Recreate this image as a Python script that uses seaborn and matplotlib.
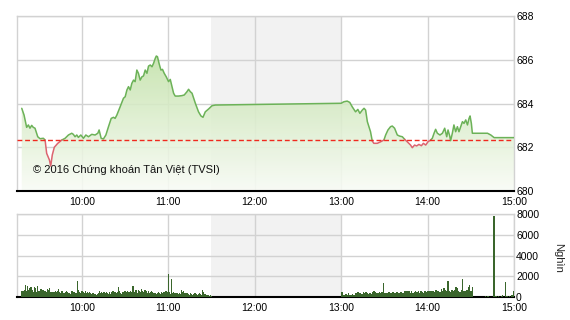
import numpy as np
import pandas as pd
import matplotlib
matplotlib.use("Agg")
import matplotlib.pyplot as plt
import seaborn as sns
from matplotlib.colors import LinearSegmentedColormap

# ---------------- data ----------------
# minutes after 09:00
price_t = [18.3, 19.9, 21.7, 22.9, 24.0, 25.2, 26.3, 27.5, 29.4, 31.0, 33.3, 34.5, 35.6, 37.5, 38.4,
           39.5, 40.9, 43.3, 46.1, 48.4, 50.7, 53.0, 54.1, 55.3, 56.5, 57.6, 59.3, 61.1, 62.8, 64.6,
           66.9, 69.2, 71.1, 72.0, 73.4, 75.0, 76.7, 78.5, 80.4, 82.0, 83.1, 84.3, 86.6, 88.9, 90.1,
           91.3, 92.4, 93.6, 94.7, 95.9, 97.0, 98.2, 99.3, 100.5, 101.7, 102.8, 104.0, 105.2, 106.3,
           107.5, 108.7, 109.8, 111.0, 111.7, 112.5, 113.7, 114.9, 116.0, 117.2, 118.6, 120.2, 121.4,
           122.6, 123.7, 124.8, 127.1, 129.5, 131.1, 133.0, 134.1, 135.3, 136.5, 138.8, 141.0, 142.7,
           144.1, 145.7, 148.0, 150.4, 152.7, 240.0, 241.9, 244.2, 246.0, 247.7, 250.0, 251.6, 253.0,
           254.7, 255.9, 257.0, 258.2, 259.3, 260.4, 261.6, 262.7, 265.1, 267.4, 269.7, 270.9, 272.5,
           274.3, 275.5, 277.1, 279.0, 280.6, 282.5, 284.1, 285.9, 288.2, 289.4, 291.0, 292.4, 294.0,
           295.7, 297.1, 298.7, 300.3, 302.1, 303.3, 304.5, 305.6, 306.8, 308.6, 310.3, 311.9, 313.3,
           314.2, 315.4, 316.0, 317.2, 318.3, 319.5, 320.7, 321.8, 323.0, 324.2, 325.3, 326.5, 327.7,
           328.8, 329.5, 330.4, 331.1, 341.6, 343.9, 346.2, 360.0]
price_v = [683.78, 683.47, 682.91, 683.02, 682.87, 683.00, 682.91, 682.87, 682.48, 682.39, 682.41,
           682.33, 681.72, 681.42, 681.14, 681.65, 682.00, 682.18, 682.33, 682.41, 682.56, 682.64,
           682.59, 682.48, 682.56, 682.45, 682.56, 682.41, 682.56, 682.48, 682.59, 682.56, 682.64,
           682.79, 682.41, 682.38, 682.56, 682.94, 683.32, 683.37, 683.32, 683.47, 683.85, 684.24,
           684.31, 684.62, 684.77, 684.62, 684.92, 685.07, 685.00, 685.53, 685.38, 685.07, 685.22,
           685.26, 685.53, 685.38, 685.71, 685.76, 685.68, 685.84, 686.07, 686.17, 686.14, 685.81,
           685.53, 685.56, 685.38, 685.22, 685.00, 685.10, 684.77, 684.47, 684.34, 684.34, 684.36,
           684.39, 684.54, 684.65, 684.54, 684.47, 684.01, 683.62, 683.43, 683.37, 683.62, 683.75,
           683.90, 683.93, 684.01, 684.08, 684.11, 684.05, 683.85, 683.62, 683.73, 683.55, 683.70,
           683.78, 683.70, 683.17, 682.94, 682.71, 682.29, 682.18, 682.18, 682.25, 682.33, 682.56,
           682.79, 682.94, 682.97, 682.87, 682.56, 682.51, 682.48, 682.36, 682.25, 682.10, 681.98,
           682.10, 682.06, 682.13, 682.07, 682.18, 682.10, 682.25, 682.33, 682.41, 682.64, 682.82,
           682.64, 682.56, 682.64, 682.87, 682.48, 682.79, 682.51, 682.30, 682.64, 683.02, 682.71,
           682.94, 682.71, 682.94, 683.17, 683.09, 683.25, 683.02, 683.32, 683.43, 683.09, 682.64,
           682.64, 682.56, 682.44, 682.44]
ref_price = 682.33

vol_am = [600, 600, 650, 1200, 600, 1100, 650, 850, 1000, 650, 450, 950, 850, 450, 1100, 550, 550,
          750, 450, 650, 550, 600, 450, 750, 650, 850, 450, 350, 450, 450, 550, 450, 550, 750, 450,
          350, 550, 350, 350, 450, 550, 450, 350, 350, 250, 550, 350, 450, 350, 350, 1500, 650, 450,
          350, 550, 450, 350, 550, 350, 450, 350, 450, 350, 250, 350, 200, 250, 200, 250, 350, 550,
          350, 450, 350, 450, 350, 450, 350, 250, 450, 250, 450, 550, 350, 450,
          350, 450, 1000, 550, 350, 250, 450, 350, 550, 450, 550, 450, 450, 550, 450, 1100, 450, 350,
          650, 350, 650, 600, 450, 750, 550, 450, 650, 550, 350, 550, 350, 450, 550, 450, 350, 350,
          250, 350, 450, 350, 250, 450, 350, 450, 350, 550, 450, 2200, 450, 250, 1750, 350, 450, 350,
          250, 350, 250, 350, 250, 650, 450, 600, 350, 250, 350, 250, 200, 350, 250, 200, 250, 350,
          250, 200, 250, 350, 250, 200, 650, 450, 250, 200, 100, 200, 100, 200, 100]
vol_pm = [450, 200, 200, 250, 200, 350, 200, 200, 250, 200, 400, 350, 450, 350, 400, 250, 500, 350,
          450, 400, 250, 400, 250, 500, 550, 500, 350, 400, 500, 400, 500, 1350, 400, 350, 400, 500,
          350, 400, 500, 350, 400, 500, 350, 400, 500, 350, 400, 550, 550, 550, 550, 400, 550, 400,
          500, 550, 500, 550, 400, 550, 500, 400, 550, 500, 550, 600, 550, 600, 550, 500, 650, 550,
          600, 500, 750, 600, 850, 650, 550, 1500, 550, 500, 650, 550, 650, 950, 850, 550, 500, 650,
          1700, 550, 600, 650, 950, 1200, 600, 1000]
late_t = [340.2, 342.0, 346.2, 347.6, 349.4, 351.3, 352.2, 354.1, 355.2, 356.9, 358.7, 359.6]
late_v = [100, 100, 7800, 50, 100, 50, 150, 1400, 50, 50, 150, 550]

hour_ticks = [60, 120, 180, 240, 300, 360]
hour_labels = ["10:00", "11:00", "12:00", "13:00", "14:00", "15:00"]
price_ticks = [680, 682, 684, 686, 688]
vol_ticks = [0, 2000, 4000, 6000, 8000]

# ---------------- style ----------------
sns.set_theme(style="white")
plt.rcParams["font.family"] = ["Liberation Sans", "DejaVu Sans"]

W, H = 570, 320
fig = plt.figure(figsize=(W / 100, H / 100), dpi=100)
ax = fig.add_axes([17 / W, 1 - 191 / H, 497 / W, 175 / H])
axv = fig.add_axes([17 / W, 1 - 297 / H, 497 / W, 83 / H])

GRID = "#d2d2d2"
X0, X1 = 15, 360

for a in (ax, axv):
    a.axvspan(150, 240, color="#f2f2f2", zorder=0.5, lw=0)
    a.grid(True, color=GRID, lw=1)
    a.set_axisbelow(True)
    for s in ("left", "right", "top"):
        a.spines[s].set_color(GRID)
        a.spines[s].set_linewidth(1)
    a.spines["bottom"].set_color("black")
    a.spines["bottom"].set_linewidth(1.5)
    a.set_xticks(hour_ticks)
    a.set_xticklabels(hour_labels)
    a.yaxis.tick_right()
    a.tick_params(axis="both", length=0, labelsize=7.5, colors="black")
    a.tick_params(axis="x", pad=4)
    a.tick_params(axis="y", pad=1.5)

# ---- price panel ----
t = np.array(price_t)
p = np.array(price_v)
poly = ax.fill_between(t, p, 680, facecolor="none", edgecolor="none")
cmap = LinearSegmentedColormap.from_list("g", ["#f9fcf6", "#b3da93"])
grad = np.linspace(0, 1, 256).reshape(-1, 1)
im = ax.imshow(grad, extent=[X0, X1, 680, 688], origin="lower", aspect="auto",
               cmap=cmap, zorder=1, alpha=0.88, interpolation="bilinear")
im.set_clip_path(poly.get_paths()[0], transform=ax.transData)

below = (p[:-1] + p[1:]) / 2 < ref_price
rows = []
run = 0
for i in range(len(below)):
    if i > 0 and below[i] != below[i - 1]:
        run += 1
    state = "below" if below[i] else "above"
    rows.append((run, state, t[i], p[i]))
    rows.append((run, state, t[i + 1], p[i + 1]))
seg = pd.DataFrame(rows, columns=["run", "state", "t", "p"]).drop_duplicates()
sns.lineplot(data=seg, x="t", y="p", units="run", hue="state", estimator=None, sort=False,
             palette={"above": "#6cb258", "below": "#dc6470"}, legend=False, lw=1.1, ax=ax,
             zorder=3)
ax.axhline(ref_price, color="#f0281e", ls=(0, (3.5, 2)), lw=1, zorder=4)

ax.set_xlim(X0, X1)
ax.set_ylim(680, 688)
ax.set_yticks(price_ticks)
ax.set_yticklabels([str(v) for v in price_ticks])
ax.set_xlabel("")
ax.set_ylabel("")
ax.text(26.1, 680.96, "© 2016 Chứng khoán Tân Việt (TVSI)", fontsize=8, color="#111111",
        ha="left", va="center", zorder=5)

# ---- volume panel ----
t_am = np.linspace(18.5, 150.0, len(vol_am))
t_pm = np.linspace(240.5, 331.0, len(vol_pm))
vt = np.concatenate([t_am, t_pm, late_t])
vv = np.concatenate([vol_am, vol_pm, late_v])
axv.bar(vt, vv, width=0.95, color="#3a662c", lw=0, zorder=3)
axv.set_xlim(X0, X1)
axv.set_ylim(0, 8000)
axv.set_yticks(vol_ticks)
axv.set_yticklabels([str(v) for v in vol_ticks])
fig.text(558 / W, 1 - 258 / H, "Nghìn", rotation=-90, ha="center", va="center", fontsize=8)

fig.savefig("out.png", dpi=100)
